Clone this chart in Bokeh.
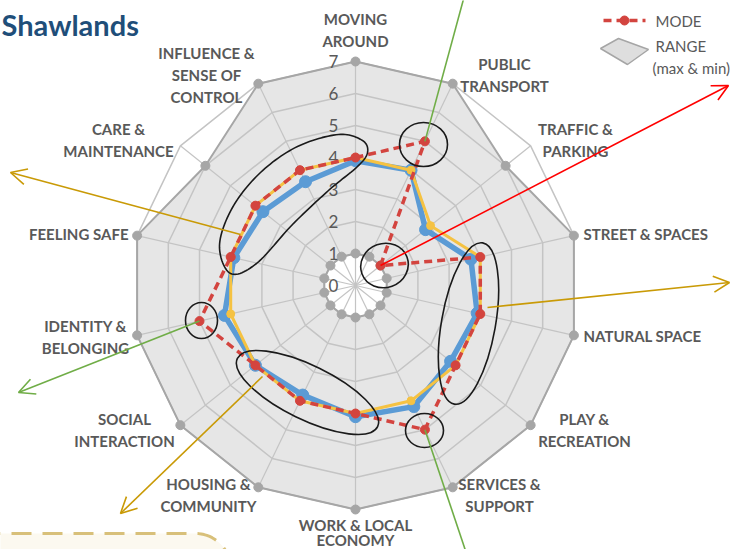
import numpy as np
from bokeh.plotting import figure
from bokeh.models import Range1d, Arrow, OpenHead
from bokeh.core.properties import value
from bokeh.embed import file_html
from bokeh.resources import INLINE

# ---------------- data ----------------
categories = ["MOVING AROUND", "PUBLIC TRANSPORT", "TRAFFIC & PARKING", "STREET & SPACES",
              "NATURAL SPACE", "PLAY & RECREATION", "SERVICES & SUPPORT", "WORK & LOCAL ECONOMY",
              "HOUSING & COMMUNITY", "SOCIAL INTERACTION", "IDENTITY & BELONGING", "FEELING SAFE",
              "CARE & MAINTENANCE", "INFLUENCE & SENSE OF CONTROL"]
mean = [3.9, 4.0, 2.8, 3.7, 3.9, 3.8, 4.2, 4.1, 3.8, 4.0, 4.2, 3.9, 3.7, 3.6]
median = [4, 4, 3, 4, 4, 4, 4, 4, 4, 4, 4, 4, 4, 4]
mode = [4, 5, 1, 4, 4, 4, 5, 4, 4, 4, 5, 4, 4, 4]
range_max = [7, 7, 6, 7, 7, 7, 7, 7, 7, 7, 7, 7, 6, 7]
range_min = [1, 1, 1, 1, 1, 1, 1, 1, 1, 1, 1, 1, 1, 1]
scale_ticks = [0, 1, 2, 3, 4, 5, 6, 7]

# ---------------- layout helpers ----------------
S = 32.0            # pixels per value unit
CX, CY = 355, 285   # centre of radar in pixels
W, H = 732, 549


def P(px, py):
    return (px - CX) / S, (CY - py) / S


n = len(categories)
theta = np.arange(n) * 2 * np.pi / n


def polar(vals, close=True):
    v = np.asarray(vals, dtype=float)
    xs = list(v * np.sin(theta))
    ys = list(v * np.cos(theta))
    if close:
        xs.append(xs[0]); ys.append(ys[0])
    return xs, ys


p = figure(width=W, height=H,
           x_range=Range1d(-CX / S, (W - CX) / S),
           y_range=Range1d((CY - H) / S, CY / S),
           output_backend="svg", toolbar_location=None, min_border=0)
p.axis.visible = False
p.grid.visible = False
p.outline_line_color = None
p.background_fill_color = "white"

FONT = value("Lato")
GREY_TXT = "#595959"

# --------- bottom dashed boxes (background decorations) ---------
ang = np.linspace(np.pi / 2, 0, 20)
gpts = [(-20, 533), (195, 533)] + [(195 + 35 * np.cos(a), 568 - 35 * np.sin(a)) for a in ang]
gx = [P(*q)[0] for q in gpts]
gy = [P(*q)[1] for q in gpts]
p.patch(gx + [P(230, 600)[0], P(-20, 600)[0]], gy + [P(230, 600)[1], P(-20, 600)[1]],
        fill_color="#fcf9f0", line_color=None)
p.line(gx, gy, line_color="#d8c07a", line_width=3, line_dash="20 11")
ang2 = np.linspace(np.pi, np.pi / 2, 20)
epts = [(568 + 22 * np.cos(a), 575 - 22 * np.sin(a)) for a in ang2] + [(760, 553)]
p.line([P(*q)[0] for q in epts], [P(*q)[1] for q in epts],
       line_color="#b5d99c", line_width=3, line_dash="20 11")

# ---------------- range fill ----------------
mxx, mxy = polar(range_max)
mnx, mny = polar(range_min)
p.multi_polygons(xs=[[[mxx, mnx]]], ys=[[[mxy, mny]]], fill_color="#e6e6e6", line_color=None)

# ---------------- grid ----------------
ring_xs, ring_ys = [], []
for k in range(1, 8):
    rx, ry = polar([k] * n)
    ring_xs.append(rx); ring_ys.append(ry)
p.multi_line(ring_xs, ring_ys, line_color="#c4c4c4", line_width=1.5)
sp_xs = [[0, 7 * np.sin(t)] for t in theta]
sp_ys = [[0, 7 * np.cos(t)] for t in theta]
p.multi_line(sp_xs, sp_ys, line_color="#c4c4c4", line_width=1.2)

# range borders + markers
p.line(mxx, mxy, line_color="#a6a6a6", line_width=2)
p.line(mnx, mny, line_color="#a6a6a6", line_width=2)
p.scatter(mxx[:-1], mxy[:-1], size=9, color="#a6a6a6")
p.scatter(mnx[:-1], mny[:-1], size=9, color="#a6a6a6")

# scale labels
tx = [P(333, 0)[0]] * len(scale_ticks)
p.text(tx, list(scale_ticks), text=[str(t) for t in scale_ticks], text_font=FONT, text_font_size="17px",
       text_color=GREY_TXT, text_align="center", text_baseline="middle")

# ---------------- series ----------------
ax_, ay_ = polar(mean)
p.line(ax_, ay_, line_color="#5b9bd5", line_width=5.5)
p.scatter(ax_[:-1], ay_[:-1], size=12, color="#5b9bd5")
dx_, dy_ = polar(median)
p.line(dx_, dy_, line_color="#f5c242", line_width=3)
p.scatter(dx_[:-1], dy_[:-1], size=8, color="#f5c242")
ox_, oy_ = polar(mode)
p.line(ox_, oy_, line_color="#d3443f", line_width=3.5, line_dash="8 5")
p.scatter(ox_[:-1], oy_[:-1], size=9, color="#d3443f")

# ---------------- hand-drawn loops ----------------
LOOP = "#1a1a1a"


def ell(cx, cy, rx, ry, angle_deg=0.0):
    x, y = P(cx, cy)
    p.ellipse(x=[x], y=[y], width=[2 * rx / S], height=[2 * ry / S], angle=np.deg2rad(angle_deg),
              fill_alpha=0, line_color=LOOP, line_width=1.6)


ell(423, 144, 24, 22)
ell(384, 265, 24, 22, 20)
ell(468, 323, 27, 82, -10)
ell(424, 430, 19, 17)
ell(307, 392, 78, 27, -26)
ell(201, 320, 16, 18)


def smooth_closed(pts, k=14):
    pts = np.asarray(pts, dtype=float)
    m = len(pts)
    out = []
    for i in range(m):
        p0, p1, p2, p3 = pts[i - 1], pts[i], pts[(i + 1) % m], pts[(i + 2) % m]
        for t in np.linspace(0, 1, k, endpoint=False):
            t2, t3 = t * t, t * t * t
            out.append(0.5 * ((2 * p1) + (-p0 + p2) * t + (2 * p0 - 5 * p1 + 4 * p2 - p3) * t2
                              + (-p0 + 3 * p1 - 3 * p2 + p3) * t3))
    out.append(out[0])
    return np.array(out)


banana = smooth_closed([(230, 273), (219, 245), (232, 207), (260, 172), (297, 146), (338, 134),
                        (362, 140), (367, 152), (357, 166), (328, 190), (292, 224), (256, 263)])
p.line([(q[0] - CX) / S for q in banana], [(CY - q[1]) / S for q in banana],
       line_color=LOOP, line_width=1.6)

# ---------------- arrows ----------------
GOLD, RED, GREEN = "#c99a06", "#ff0000", "#70ad47"


def arrow(x0, y0, px1, py1, color, head=True):
    x1, y1 = P(px1, py1)
    if head:
        p.add_layout(Arrow(end=OpenHead(size=16, line_color=color, line_width=1.6),
                           x_start=x0, y_start=y0, x_end=x1, y_end=y1,
                           line_color=color, line_width=1.6))
    else:
        p.line([x0, x1], [y0, y1], line_color=color, line_width=1.6)


arrow(ox_[1], oy_[1], 464, -5, GREEN, head=False)
arrow(ox_[2], oy_[2], 728, 85, RED)
s3 = P(487, 307); arrow(s3[0], s3[1], 729, 282, GOLD)
s4 = P(240, 234); arrow(s4[0], s4[1], 10, 172, GOLD)
arrow(ox_[10], oy_[10], 18, 392, GREEN)
s6 = P(262, 376); arrow(s6[0], s6[1], 120, 513, GOLD)
arrow(ox_[6], oy_[6], 470, 565, GREEN, head=False)

# ---------------- category labels ----------------
label_layout = [
    (["MOVING", "AROUND"], 355, 18, "center", 22),
    (["PUBLIC", "TRANSPORT"], 504, 63, "center", 22),
    (["TRAFFIC &", "PARKING"], 575, 128, "center", 22),
    (["STREET & SPACES"], 583, 233, "left", 22),
    (["NATURAL SPACE"], 583, 335, "left", 22),
    (["PLAY &", "RECREATION"], 584, 418, "center", 22),
    (["SERVICES &", "SUPPORT"], 499, 483, "center", 22),
    (["WORK & LOCAL", "ECONOMY"], 355, 524, "center", 15),
    (["HOUSING &", "COMMUNITY"], 208, 483, "center", 22),
    (["SOCIAL", "INTERACTION"], 124, 418, "center", 22),
    (["IDENTITY &", "BELONGING"], 85, 325, "center", 22),
    (["FEELING SAFE"], 128, 233, "right", 22),
    (["CARE &", "MAINTENANCE"], 118, 128, "center", 22),
    (["INFLUENCE &", "SENSE OF", "CONTROL"], 206, 52, "center", 22),
]
for lines, lx, ly, al, lh in label_layout:
    xs, ys = [], []
    for i, _ in enumerate(lines):
        x, y = P(lx, ly + lh * i)
        xs.append(x); ys.append(y)
    p.text(xs, ys, text=lines, text_font=FONT, text_font_style="bold", text_font_size="15px",
           text_color=GREY_TXT, text_align=al, text_baseline="middle")

# ---------------- title ----------------
t = P(1, 24)
p.text([t[0]], [t[1]], text=["Shawlands"], text_font=FONT, text_font_style="bold",
       text_font_size="29px", text_color="#1f4e79", text_align="left", text_baseline="middle")

# ---------------- legend ----------------
l1 = P(603, 20); l2 = P(645, 20); lm = P(624, 20)
p.line([l1[0], l2[0]], [l1[1], l2[1]], line_color="#d3443f", line_width=3.5, line_dash="8 5")
p.scatter([lm[0]], [lm[1]], size=9, color="#d3443f")
poly = [P(600, 48), P(618, 38), P(648, 49), P(627, 64)]
p.patch([q[0] for q in poly], [q[1] for q in poly], fill_color="#dedede", line_color="#a6a6a6", line_width=1.5)
leg_txt = [("MODE", 655, 20), ("RANGE", 655, 45), ("(max & min)", 652, 67)]
p.text([P(a[1], a[2])[0] for a in leg_txt], [P(a[1], a[2])[1] for a in leg_txt],
       text=[a[0] for a in leg_txt], text_font=FONT, text_font_size="15px",
       text_color=GREY_TXT, text_align="left", text_baseline="middle")

open("out.html", "w").write(file_html(p, INLINE))
